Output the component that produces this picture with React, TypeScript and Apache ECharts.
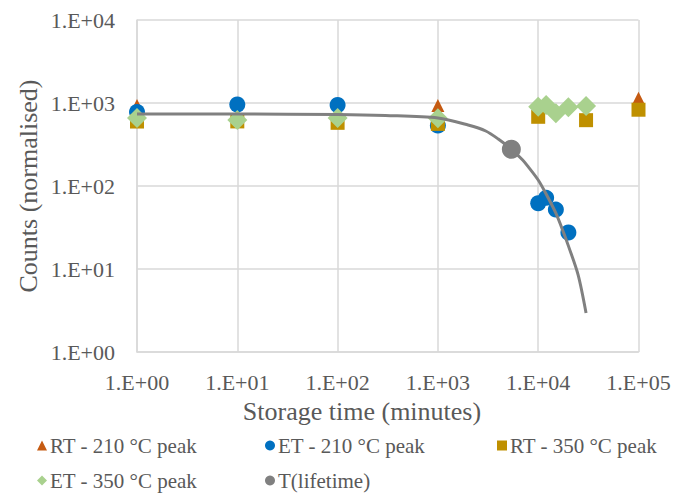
import React, { useEffect, useRef } from "react";
import * as echarts from "echarts";

const xTickLabels = ["1.E+00", "1.E+01", "1.E+02", "1.E+03", "1.E+04", "1.E+05"];
const yTickLabels = ["1.E+00", "1.E+01", "1.E+02", "1.E+03", "1.E+04"];

const seriesNames = [
  "RT - 210 °C peak",
  "ET - 210 °C peak",
  "RT - 350 °C peak",
  "ET - 350 °C peak",
  "T(lifetime)",
];

// [storage time (min), counts]
const rt210 = [
  [1, 933],
  [1000, 933],
  [100000, 1143],
];
const et210 = [
  [1, 780],
  [10, 960],
  [100, 946],
  [1000, 536],
  [10000, 62],
  [12000, 72],
  [15000, 52],
  [20000, 27.5],
];
const rt350 = [
  [1, 598],
  [10, 600],
  [100, 577],
  [1000, 560],
  [10000, 682],
  [30000, 621],
  [100000, 830],
];
const et350 = [
  [1, 660],
  [10, 624],
  [100, 660],
  [1000, 654],
  [10000, 903],
  [12000, 946],
  [15000, 751],
  [20000, 888],
  [30000, 920],
];
const lifetime = [[5400, 277]];
const lifetimeCurve = [
  [1, 737],
  [10, 737],
  [100, 727],
  [300, 707],
  [1000, 660],
  [2000, 543],
  [3000, 460],
  [4000, 368],
  [5400, 277],
  [7000, 206],
  [8000, 169],
  [10000, 118],
  [12000, 80],
  [15000, 47],
  [18000, 27],
  [20000, 19],
  [25000, 8.5],
  [30000, 2.95],
];

const FONT = "'Liberation Serif', 'Times New Roman', serif";
const TXT = "#595959";
const GRID = "#D9D9D9";
const colors = ["#C55A11", "#0070C0", "#BF9000", "#A9D18E", "#808080"];

export default function App() {
  const ref = useRef<HTMLDivElement>(null);
  useEffect(() => {
    if (!ref.current) return;
    const chart = echarts.init(ref.current, null, { renderer: "svg" });
    const legendPos = [
      { left: 37, top: 435, icon: "triangle" },
      { left: 265, top: 435, icon: "circle" },
      { left: 497, top: 435, icon: "rect" },
      { left: 37, top: 470, icon: "diamond" },
      { left: 265, top: 470, icon: "circle" },
    ];
    const option: any = {
      animation: false,
      backgroundColor: "#ffffff",
      grid: { left: 137, top: 20, width: 501.5, height: 332 },
      xAxis: {
        type: "log",
        logBase: 10,
        min: 1,
        max: 100000,
        splitNumber: 5,
        axisLine: { show: true, lineStyle: { color: GRID, width: 1.5 } },
        axisTick: { show: false },
        splitLine: { show: true, lineStyle: { color: GRID, width: 1.5 } },
        minorSplitLine: { show: false },
        axisLabel: {
          margin: 19,
          fontFamily: FONT,
          fontSize: 22,
          color: TXT,
          formatter: (v: number) => xTickLabels[Math.round(Math.log10(v))] ?? "",
        },
      },
      yAxis: {
        type: "log",
        logBase: 10,
        min: 1,
        max: 10000,
        splitNumber: 4,
        axisLine: { show: true, lineStyle: { color: GRID, width: 1.5 } },
        axisTick: { show: false },
        splitLine: { show: true, lineStyle: { color: GRID, width: 1.5 } },
        axisLabel: {
          margin: 22,
          fontFamily: FONT,
          fontSize: 22,
          color: TXT,
          formatter: (v: number) => yTickLabels[Math.round(Math.log10(v))] ?? "",
        },
      },
      legend: legendPos.map((p, i) => ({
        left: p.left,
        top: p.top,
        data: [{ name: seriesNames[i], icon: p.icon, itemStyle: { color: colors[i], opacity: 1 } }],
        itemWidth: 10,
        itemHeight: 10,
        padding: 0,
        itemGap: 0,
        selectedMode: false,
        textStyle: { fontFamily: FONT, fontSize: 21, color: TXT, padding: [0, 0, 0, -2] },
      })),
      graphic: [
        {
          type: "text",
          x: 28,
          y: 186,
          rotation: Math.PI / 2,
          style: {
            text: "Counts (normalised)",
            fontFamily: FONT,
            fontSize: 26,
            fill: TXT,
            textAlign: "center",
            textVerticalAlign: "middle",
          },
        },
        {
          type: "text",
          x: 362,
          y: 411,
          style: {
            text: "Storage time (minutes)",
            fontFamily: FONT,
            fontSize: 26,
            fill: TXT,
            textAlign: "center",
            textVerticalAlign: "middle",
          },
        },
      ],
      series: [
        {
          name: seriesNames[0],
          type: "scatter",
          data: rt210,
          symbol: "triangle",
          symbolSize: 13,
          itemStyle: { color: colors[0], opacity: 1 },
          z: 2,
        },
        {
          name: seriesNames[1],
          type: "scatter",
          data: et210,
          symbol: "circle",
          symbolSize: 16,
          itemStyle: { color: colors[1], opacity: 1 },
          z: 3,
        },
        {
          name: seriesNames[2],
          type: "scatter",
          data: rt350,
          symbol: "rect",
          symbolSize: 14,
          itemStyle: { color: colors[2], opacity: 1 },
          z: 4,
        },
        {
          name: seriesNames[3],
          type: "scatter",
          data: et350,
          symbol: "diamond",
          symbolSize: 20,
          itemStyle: { color: colors[3], opacity: 1 },
          z: 5,
        },
        {
          name: "curve",
          type: "line",
          data: lifetimeCurve,
          smooth: 0.3,
          showSymbol: false,
          symbol: "none",
          lineStyle: { color: colors[4], width: 3 },
          z: 6,
        },
        {
          name: seriesNames[4],
          type: "scatter",
          data: lifetime,
          symbol: "circle",
          symbolSize: 19,
          itemStyle: { color: colors[4], opacity: 1 },
          z: 7,
        },
      ],
    };
    chart.setOption(option);
    return () => chart.dispose();
  }, []);
  return (
    <div
      ref={ref}
      style={{ position: "fixed", left: 0, top: 0, width: 684, height: 500, background: "#fff" }}
    />
  );
}
